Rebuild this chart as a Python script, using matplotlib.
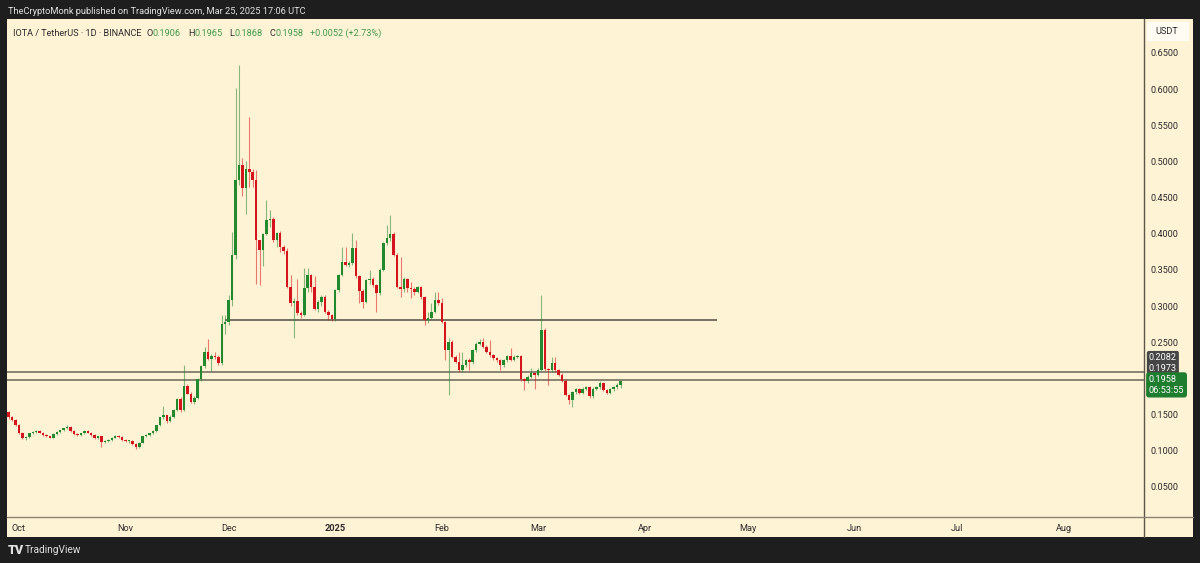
import matplotlib
matplotlib.use("Agg")
import matplotlib.pyplot as plt
import matplotlib.dates as mdates
from matplotlib.patches import Rectangle
from matplotlib.lines import Line2D
import numpy as np
import pandas as pd

plt.rcParams['font.family'] = ['Roboto', 'DejaVu Sans']

# daily candles, IOTA/USDT, Sep 28 2024 .. Mar 25 2025
first_day = "2024-09-28"
opens = [
    .153, .146, .143, .136, .125, .118, .119, .124, .126, .127, .125, .122, .120, .118, .123, .126,
    .128, .131, .133, .127, .123, .122, .124, .127, .125, .122, .117, .120, .112, .113, .115, .118,
    .121, .119, .115, .113, .114, .109, .105, .111, .120, .122, .124, .127, .135, .146, .149, .141,
    .147, .156, .172, .156, .189, .179, .168, .173, .199, .217, .236, .227, .231, .230, .221, .275,
    .278, .309, .371, .474, .495, .463, .490, .486, .474, .391, .378, .400, .419, .421, .391, .401,
    .382, .376, .327, .304, .307, .291, .288, .325, .343, .326, .296, .305, .313, .292, .287, .282,
    .322, .343, .361, .357, .359, .380, .341, .321, .306, .336, .338, .329, .318, .350, .387, .394,
    .400, .371, .327, .323, .337, .325, .323, .320, .326, .312, .281, .284, .292, .308, .304, .278,
    .239, .251, .230, .223, .211, .218, .225, .222, .239, .248, .250, .244, .237, .232, .228, .225,
    .218, .225, .231, .226, .230, .231, .199, .196, .202, .207, .205, .212, .267, .213, .211, .221,
    .211, .205, .197, .177, .170, .181, .185, .180, .186, .188, .175, .186, .188, .193, .184, .180,
    .185, .188, .1906,
]
highs = [
    .155, .148, .144, .137, .126, .121, .125, .127, .128, .129, .126, .123, .121, .124, .127, .129,
    .132, .135, .134, .128, .124, .125, .128, .128, .126, .123, .121, .121, .115, .116, .119, .122,
    .122, .120, .116, .115, .115, .110, .112, .121, .123, .125, .128, .136, .147, .162, .150, .149,
    .158, .173, .174, .218, .192, .181, .175, .200, .219, .244, .255, .234, .236, .232, .288, .288,
    .316, .402, .601, .633, .505, .500, .562, .490, .488, .392, .401, .447, .433, .423, .403, .404,
    .384, .380, .343, .311, .338, .293, .352, .352, .345, .341, .308, .316, .315, .295, .289, .324,
    .345, .382, .382, .362, .401, .392, .343, .323, .338, .350, .340, .331, .352, .389, .412, .426,
    .402, .373, .368, .340, .339, .333, .326, .328, .328, .314, .292, .304, .319, .319, .311, .280,
    .256, .253, .232, .237, .237, .227, .228, .241, .251, .255, .256, .246, .253, .234, .230, .227,
    .227, .233, .242, .232, .233, .233, .201, .204, .214, .209, .214, .316, .269, .215, .229, .229,
    .213, .207, .199, .179, .183, .187, .187, .188, .190, .190, .188, .190, .196, .195, .186, .187,
    .190, .193, .1965,
]
lows = [
    .144, .141, .134, .123, .116, .115, .118, .123, .125, .124, .121, .119, .117, .117, .122, .125,
    .127, .130, .126, .122, .121, .121, .123, .124, .121, .116, .116, .105, .111, .112, .114, .117,
    .118, .114, .112, .111, .108, .103, .104, .110, .119, .121, .123, .126, .134, .144, .138, .139,
    .145, .155, .154, .155, .178, .166, .165, .171, .197, .215, .225, .210, .227, .218, .219, .262,
    .274, .300, .365, .468, .452, .428, .465, .465, .331, .329, .355, .398, .410, .388, .382, .375,
    .372, .325, .300, .256, .288, .283, .286, .320, .320, .294, .292, .300, .290, .281, .280, .280,
    .320, .341, .355, .354, .357, .339, .304, .297, .304, .330, .327, .292, .316, .348, .384, .390,
    .369, .325, .313, .320, .320, .311, .316, .318, .310, .274, .276, .282, .290, .302, .276, .225,
    .177, .228, .221, .209, .209, .216, .212, .220, .237, .246, .242, .235, .230, .226, .223, .211,
    .216, .223, .224, .224, .228, .197, .184, .194, .200, .185, .203, .210, .210, .191, .209, .209,
    .203, .195, .175, .165, .161, .179, .178, .178, .184, .173, .173, .184, .186, .182, .178, .178,
    .183, .186, .1868,
]
closes = [
    .146, .143, .136, .125, .118, .119, .124, .126, .127, .125, .122, .120, .118, .123, .126, .128,
    .131, .133, .127, .123, .122, .124, .127, .125, .122, .117, .120, .112, .113, .115, .118, .121,
    .119, .115, .113, .114, .109, .105, .111, .120, .122, .124, .127, .135, .146, .149, .141, .147,
    .156, .172, .156, .189, .179, .168, .173, .199, .217, .236, .227, .231, .230, .221, .275, .278,
    .309, .371, .474, .495, .463, .490, .486, .474, .391, .378, .400, .419, .421, .391, .401, .382,
    .376, .327, .304, .307, .291, .288, .325, .343, .326, .296, .305, .313, .292, .287, .282, .322,
    .343, .361, .357, .359, .380, .341, .321, .306, .336, .338, .329, .318, .350, .387, .394, .400,
    .371, .327, .323, .337, .325, .323, .320, .326, .312, .281, .284, .292, .308, .304, .278, .239,
    .251, .230, .223, .211, .218, .225, .222, .239, .248, .250, .244, .237, .232, .228, .225, .218,
    .225, .231, .226, .230, .231, .199, .196, .202, .207, .205, .212, .267, .213, .211, .221, .211,
    .205, .197, .177, .170, .181, .185, .180, .186, .188, .175, .186, .188, .193, .184, .180, .185,
    .188, .1906, .1958,
]

# drawn levels
support_level = 0.2807
support_from, support_to = "2024-11-30", "2025-04-22"
level_a = 0.2082
level_b = 0.1973
last_price = 0.1958
countdown = "06:53:55"

price_ticks = [0.05, 0.10, 0.15, 0.25, 0.30, 0.35, 0.40, 0.45, 0.50, 0.55, 0.60, 0.65]
month_ticks = ["2024-10-01", "2024-11-01", "2024-12-01", "2025-01-01", "2025-02-01", "2025-03-01",
               "2025-04-01", "2025-05-01", "2025-06-01", "2025-07-01", "2025-08-01"]
month_labels = ["Oct", "Nov", "Dec", "2025", "Feb", "Mar", "Apr", "May", "Jun", "Jul", "Aug"]

BG = '#1e1e1e'
CREAM = '#fff3d6'
UP = '#22892f'
DOWN = '#d3141c'
LINE = '#6a6758'
TXT = '#2b2b2b'
VAL = '#3f9b4b'
FS = 6.6

W, H = 1200, 563


def fx(px):
    return px / W


def fy(py):
    return 1 - py / H


def main():
    dates = pd.date_range(first_day, periods=len(closes), freq='D')
    x = mdates.date2num(dates)
    o = np.array(opens)
    h = np.array(highs)
    l = np.array(lows)
    c = np.array(closes)
    up = c >= o
    colors = np.where(up, UP, DOWN)

    fig = plt.figure(figsize=(12, 5.63), dpi=100, facecolor=BG)
    fig.patches.append(Rectangle((fx(7), fy(537)), fx(1193 - 7), (537 - 19) / H,
                                 transform=fig.transFigure, facecolor=CREAM, edgecolor='none', zorder=-5))

    ax = fig.add_axes([fx(7), fy(517), fx(1144 - 7), (517 - 19) / H])
    ax.set_zorder(1)
    ax.set_facecolor(CREAM)
    for s in ax.spines.values():
        s.set_visible(False)

    # candles
    ax.vlines(x, l, h, colors=colors, lw=0.8, alpha=0.55, zorder=2)
    body = np.maximum(np.abs(c - o), 0.0012)
    ax.bar(x, body, bottom=np.minimum(o, c), width=0.72, color=colors, edgecolor='none', zorder=3)

    # levels
    ax.axhline(level_a, color=LINE, lw=1.1, zorder=1)
    ax.axhline(level_b, color=LINE, lw=1.1, zorder=1)
    ax.hlines(support_level, mdates.datestr2num(support_from), mdates.datestr2num(support_to),
              color=LINE, lw=1.3, zorder=1)

    oct1 = mdates.datestr2num("2024-10-01")
    ax.set_xlim(oct1 - 3.49, oct1 + 327.3)
    ax.set_ylim(0.0083, 0.697)

    ax.yaxis.tick_right()
    ax.set_yticks(price_ticks, labels=["{:.4f}".format(v) for v in price_ticks])
    ax.tick_params(axis='y', length=0, pad=4.5, labelsize=FS, labelcolor=TXT)
    ax.set_xticks(mdates.datestr2num(month_ticks), labels=month_labels)
    ax.tick_params(axis='x', length=0, pad=5, labelsize=FS, labelcolor=TXT)
    for lab in ax.get_xticklabels():
        if lab.get_text() == "2025":
            lab.set_fontweight('bold')

    # axis separators
    fig.add_artist(Line2D([fx(1144), fx(1144)], [fy(19), fy(537)], color='#5a5648', lw=1.0, zorder=3))
    fig.add_artist(Line2D([fx(7), fx(1193)], [fy(517), fy(517)], color='#8a8470', lw=1.0, zorder=3))

    # price tags on the axis
    tag = dict(xycoords=('axes fraction', 'data'), textcoords='offset points', ha='left', va='center',
               fontsize=FS, color='white', zorder=5)
    ax.annotate("{:.4f}".format(level_a), xy=(1, level_a), xytext=(3.5, 10.8),
                bbox=dict(boxstyle='round,pad=0.22', fc='#454545', ec='none'), **tag)
    ax.annotate("{:.4f}".format(level_b), xy=(1, level_b), xytext=(3.5, 8.6),
                bbox=dict(boxstyle='round,pad=0.22', fc='#454545', ec='none'), **tag)
    ax.annotate("{:.4f}\n{}".format(last_price, countdown), xy=(1, last_price), xytext=(3.5, -2.5),
                linespacing=1.25, bbox=dict(boxstyle='round,pad=0.3', fc='#1f7d2f', ec='none'), **tag)

    # USDT box
    fig.patches.append(Rectangle((fx(1147), fy(41)), fx(1189 - 1147), (41 - 22) / H,
                                 transform=fig.transFigure, facecolor='#fffcf3', edgecolor='none', zorder=2))
    fig.text(fx(1167), fy(31.5), "USDT", ha='center', va='center', fontsize=FS, color=TXT, zorder=3)

    # header and footer
    fig.text(fx(8), fy(12), "TheCryptoMonk published on TradingView.com, Mar 25, 2025 17:06 UTC",
             color='#e2e2e2', fontsize=6.7, va='center')
    fig.text(fx(8), fy(550), "TV", color='#e2e2e2', fontsize=9, fontweight='heavy', va='center')
    fig.text(fx(25), fy(550), "TradingView", color='#e2e2e2', fontsize=7.3, va='center')

    # legend line with coloured values
    parts = [("O", TXT, 3.6), ("0.1906", VAL, 0), ("H", TXT, 5), ("0.1965", VAL, 0),
             ("L", TXT, 5), ("0.1868", VAL, 0), ("C", TXT, 5), ("0.1958", VAL, 0),
             ("+0.0052 (+2.73%)", VAL, 5)]
    prev = ax.text(fx(13 - 7) / fx(1144 - 7), (517 - 33) / (517 - 19), "IOTA / TetherUS · 1D · BINANCE",
                   transform=ax.transAxes, color=TXT, fontsize=FS, va='center')
    for s, col, gap in parts:
        prev = ax.annotate(s, xy=(1, 0), xycoords=prev, xytext=(gap, 0), textcoords='offset points',
                           ha='left', va='bottom', fontsize=FS, color=col)

    fig.savefig("out.png", dpi=100, facecolor=BG)


if __name__ == "__main__":
    main()
